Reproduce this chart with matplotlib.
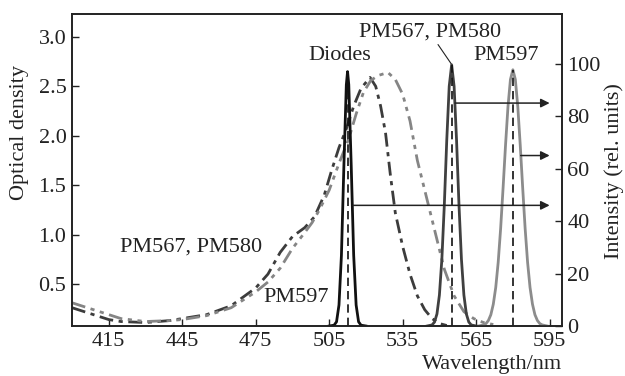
import matplotlib
matplotlib.use('Agg')
import matplotlib.pyplot as plt

plt.rcParams['font.family'] = ['Liberation Serif', 'DejaVu Serif']
plt.rcParams['font.size'] = 16

# absorption, PM567/PM580 (dark dash-dot)
abs1_nm = [400, 405, 410, 415, 420, 430, 440, 445, 455, 465, 475, 480, 485, 490, 495,
           499, 503, 506, 509, 512, 515, 518, 521.7, 524, 526, 528, 530, 532, 535,
           538, 541, 544, 547, 550, 553]
abs1_od = [0.26, 0.22, 0.18, 0.14, 0.12, 0.11, 0.13, 0.15, 0.19, 0.28, 0.46, 0.60, 0.82, 0.98, 1.07,
           1.18, 1.40, 1.65, 1.88, 2.07, 2.30, 2.48, 2.59, 2.50, 2.30, 2.03, 1.60, 1.22, 0.88,
           0.60, 0.38, 0.24, 0.15, 0.10, 0.08]

# absorption, PM597 (gray dash-dot-dot)
abs2_nm = [400, 405, 410, 415, 420, 430, 440, 445, 455, 465, 475, 480, 485, 490, 495,
           498, 501, 505, 509, 513, 516, 519, 522, 525, 529, 532, 535, 538, 541,
           544, 548, 552, 556, 560, 564, 568, 572]
abs2_od = [0.31, 0.27, 0.23, 0.19, 0.15, 0.12, 0.13, 0.14, 0.18, 0.26, 0.42, 0.52, 0.66, 0.86, 1.02,
           1.12, 1.25, 1.45, 1.72, 1.97, 2.22, 2.44, 2.56, 2.61, 2.64, 2.57, 2.42, 2.15, 1.75,
           1.45, 1.05, 0.65, 0.38, 0.22, 0.15, 0.11, 0.09]

# emission spectra (rel. units)
diode_nm = [505, 507, 508, 509, 510, 511, 512, 512.5, 513, 514, 515, 516, 517, 518, 520]
diode_i = [0, 0.3, 1.6, 8, 27, 61, 92, 97, 92, 61, 27, 8, 1.6, 0.3, 0]

pm567_nm = [545, 547, 548, 549, 550, 551, 552, 553, 554, 555, 556, 557, 558, 559, 560, 561, 562, 563, 565]
pm567_i = [0, 0.4, 1.5, 4.6, 11.8, 25.4, 46, 70.8, 91.4, 99.6, 91.4, 70.8, 46, 25.4, 11.8, 4.6, 1.5, 0.4, 0]

pm597_nm = [566, 568, 569, 570, 571, 572, 573, 574, 575, 576, 577, 578, 579, 580, 581, 582, 583,
            584, 585, 586, 587, 588, 589, 590, 591, 592, 594]
pm597_i = [0, 0.4, 0.9, 2.1, 4.3, 8.3, 14.7, 24.3, 37.2, 52.7, 69, 83.7, 94, 97.7, 94, 83.7, 69,
           52.7, 37.2, 24.3, 14.7, 8.3, 4.3, 2.1, 0.9, 0.4, 0]

peak_nm = [512.5, 555, 580]
peak_i = [97, 99.6, 97.7]

arrow_y = [85, 65, 46]
arrow_from = [556.4, 583.2, 514.8]
arrow_to = 595

fig = plt.figure(figsize=(6.25, 3.76), dpi=100)
ax = fig.add_axes([0.1152, 0.133, 0.7838, 0.830])
ax2 = ax.twinx()

ax.plot(abs1_nm, abs1_od, color='#3c3c3c', lw=2, linestyle=(0, (5, 2, 1.5, 2)))
ax.plot(abs2_nm, abs2_od, color='#858585', lw=2, linestyle=(0, (5, 2, 1.5, 2, 1.5, 2)))

ax2.plot(diode_nm, diode_i, color='#111111', lw=2)
ax2.plot(pm567_nm, pm567_i, color='#404040', lw=2)
ax2.plot(pm597_nm, pm597_i, color='#8c8c8c', lw=2)
ax2.vlines(peak_nm, 0, peak_i, colors='#111111', lw=1.2, linestyles=(0, (5, 3)))

for y, x0 in zip(arrow_y, arrow_from):
    ax2.annotate('', xy=(arrow_to, y), xytext=(x0, y),
                 arrowprops=dict(arrowstyle='-|>', color='#222222', lw=1.1,
                                 mutation_scale=13, shrinkA=0, shrinkB=0))

ax.set_xlim(400, 600)
ax.set_ylim(0.075, 3.233)
ax2.set_ylim(0, 119)
ax.set_xticks([415, 445, 475, 505, 535, 565, 595])
ax.set_yticks([0.5, 1.0, 1.5, 2.0, 2.5, 3.0])
ax.set_yticklabels(['0.5', '1.0', '1.5', '2.0', '2.5', '3.0'])
ax2.set_yticks([0, 20, 40, 60, 80, 100])

for a in (ax, ax2):
    a.tick_params(direction='in', length=5, width=1, pad=4,
                  colors='#222222', labelcolor='#222222')
    for s in a.spines.values():
        s.set_linewidth(1.2)
        s.set_color('#222222')

ax.set_xlabel('Wavelength/nm', loc='right', labelpad=3, color='#222222')
fig.text(20 / 625, 1 - 132 / 376, 'Optical density', rotation=90,
         ha='center', va='center', color='#222222')
fig.text(614 / 625, 1 - 171 / 376, 'Intensity (rel. units)', rotation=90,
         ha='center', va='center', color='#222222')

ax.text(448.7, 0.87, 'PM567, PM580', ha='center', va='center', color='#222222')
ax.text(491.4, 0.36, 'PM597', ha='center', va='center', color='#222222')
ax2.text(509.3, 103, 'Diodes', ha='center', va='center', color='#222222')
ax2.text(577.3, 103, 'PM597', ha='center', va='center', color='#222222')
ax2.annotate('PM567, PM580', xy=(554.8, 100), xytext=(546, 112), ha='center', va='center',
             color='#222222',
             arrowprops=dict(arrowstyle='-', color='#222222', lw=0.8, shrinkA=0, shrinkB=0))

fig.savefig('out.png', dpi=100)
